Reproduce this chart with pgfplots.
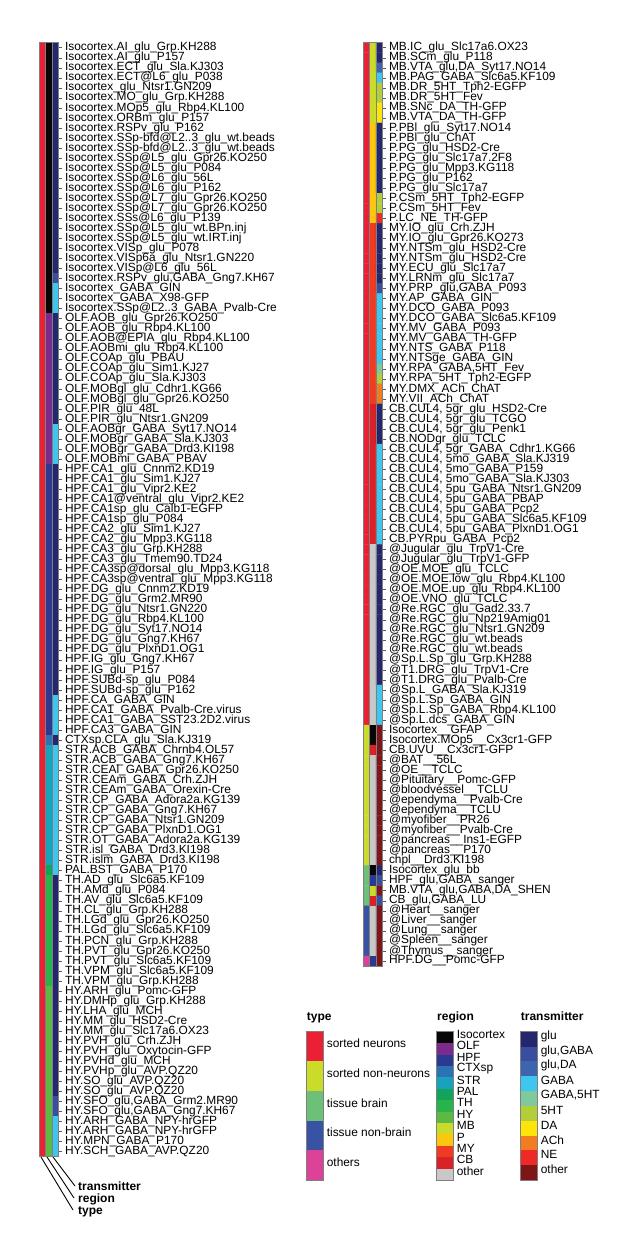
\documentclass[border=0pt]{standalone}
\usepackage{fontspec}
\setmainfont{Liberation Sans}
\usepackage{pgfplots}
\pgfplotsset{compat=1.18}
% type
\definecolor{c0}{RGB}{236,32,52}
\definecolor{c1}{RGB}{203,219,42}
\definecolor{c2}{RGB}{108,192,119}
\definecolor{c3}{RGB}{57,83,164}
\definecolor{c4}{RGB}{221,66,153}
% region
\definecolor{c5}{RGB}{7,7,7}
\definecolor{c6}{RGB}{123,43,142}
\definecolor{c7}{RGB}{43,57,144}
\definecolor{c8}{RGB}{44,115,180}
\definecolor{c9}{RGB}{23,162,190}
\definecolor{c10}{RGB}{18,164,90}
\definecolor{c11}{RGB}{40,179,75}
\definecolor{c12}{RGB}{92,185,70}
\definecolor{c13}{RGB}{203,219,42}
\definecolor{c14}{RGB}{253,198,15}
\definecolor{c15}{RGB}{240,59,35}
\definecolor{c16}{RGB}{218,33,40}
\definecolor{c17}{RGB}{200,200,200}
% transmitter
\definecolor{c18}{RGB}{37,39,110}
\definecolor{c19}{RGB}{58,78,160}
\definecolor{c20}{RGB}{61,100,176}
\definecolor{c21}{RGB}{62,197,240}
\definecolor{c22}{RGB}{127,201,154}
\definecolor{c23}{RGB}{178,207,59}
\definecolor{c24}{RGB}{253,229,10}
\definecolor{c25}{RGB}{242,124,34}
\definecolor{c26}{RGB}{238,42,39}
\definecolor{c27}{RGB}{126,21,24}
\newcommand\lab{\fontsize{11.9}{11.9}\selectfont}
\newcommand\ttl{\fontsize{12}{12}\selectfont\bfseries}
\pgfplotsset{
  strip/.style={
    scale only axis, width=19.5pt, anchor=north west,
    xmin=-0.5, xmax=2.5, y dir=reverse,
    axis on top,
    xtick={0.5,1.5}, xticklabels={}, xmajorgrids,
    major x grid style={draw=black!50, line width=0.8pt},
    xtick style={draw=none},
    ytick pos=right, yticklabel pos=right,
    tick align=outside, major tick length=3pt,
    ytick style={draw=black!65, line width=0.5pt},
    yticklabel style={font=\lab},
    axis line style={draw=black!50, line width=0.8pt},
    colormap={cats}{color=(c0) color=(c1) color=(c2) color=(c3) color=(c4)
      color=(c5) color=(c6) color=(c7) color=(c8) color=(c9) color=(c10)
      color=(c11) color=(c12) color=(c13) color=(c14) color=(c15) color=(c16)
      color=(c17) color=(c18) color=(c19) color=(c20) color=(c21) color=(c22)
      color=(c23) color=(c24) color=(c25) color=(c26) color=(c27)},
    colormap access=direct,
  },
  leg/.style={
    scale only axis, width=16.6pt, height=148.3pt, anchor=north west,
    ybar stacked, bar width=1, xmin=-0.5, xmax=0.5, ymin=0, y dir=reverse,
    xtick=\empty, ytick pos=right, yticklabel pos=right, major tick length=0pt,
    yticklabel style={font=\lab, yshift=3pt},
    axis line style={draw=black!50, line width=0.8pt}, axis on top,
  },
}
\begin{document}
\begin{tikzpicture}
\useasboundingbox (0,0) rectangle (642pt,1256pt);
% canvas axis in pixel coordinates (y downwards)
\begin{axis}[at={(0pt,0pt)}, anchor=south west, scale only axis,
  width=642pt, height=1256pt, xmin=0, xmax=642, ymin=0, ymax=1256,
  y dir=reverse, hide axis, clip=false]
\addplot[black, line width=0.9pt] coordinates {(41,1157) (73,1210)};
\addplot[black, line width=0.9pt] coordinates {(47,1157) (74,1198)};
\addplot[black, line width=0.9pt] coordinates {(53,1157) (75,1186)};
\node[anchor=base west, inner sep=0, font=\ttl] at (axis cs:78,1190) {transmitter};
\node[anchor=base west, inner sep=0, font=\ttl] at (axis cs:78,1202) {region};
\node[anchor=base west, inner sep=0, font=\ttl] at (axis cs:78,1214) {type};
\node[anchor=base west, inner sep=0, font=\ttl] at (axis cs:306.7,1020) {type};
\node[anchor=base west, inner sep=0, font=\ttl] at (axis cs:437,1020) {region};
\node[anchor=base west, inner sep=0, font=\ttl] at (axis cs:520.7,1020) {transmitter};
\end{axis}

% left strips
\begin{axis}[strip, at={(39pt,1213.3pt)}, height=1114pt,
  ymin=0.5, ymax=111.5, ytick={1,...,111},
  yticklabels={
{Isocortex.AI\_glu\_Grp.KH288},
{Isocortex.AI\_glu\_P157},
{Isocortex.ECT\_glu\_Sla.KJ303},
{Isocortex.ECT@L6\_glu\_P038},
{Isocortex\_glu\_Ntsr1.GN209},
{Isocortex.MO\_glu\_Grp.KH288},
{Isocortex.MOp5\_glu\_Rbp4.KL100},
{Isocortex.ORBm\_glu\_P157},
{Isocortex.RSPv\_glu\_P162},
{Isocortex.SSp-bfd@L2..3\_glu\_wt.beads},
{Isocortex.SSp-bfd@L2..3\_glu\_wt.beads},
{Isocortex.SSp@L5\_glu\_Gpr26.KO250},
{Isocortex.SSp@L5\_glu\_P084},
{Isocortex.SSp@L6\_glu\_56L},
{Isocortex.SSp@L6\_glu\_P162},
{Isocortex.SSp@L7\_glu\_Gpr26.KO250},
{Isocortex.SSp@L7\_glu\_Gpr26.KO250},
{Isocortex.SSs@L6\_glu\_P139},
{Isocortex.SSp@L5\_glu\_wt.BPn.inj},
{Isocortex.SSp@L5\_glu\_wt.IRT.inj},
{Isocortex.VISp\_glu\_P078},
{Isocortex.VISp6a\_glu\_Ntsr1.GN220},
{Isocortex.VISp@L6\_glu\_56L},
{Isocortex.RSPv\_glu,GABA\_Gng7.KH67},
{Isocortex\_GABA\_GIN},
{Isocortex\_GABA\_X98-GFP},
{Isocortex.SSp@L2..3\_GABA\_Pvalb-Cre},
{OLF.AOB\_glu\_Gpr26.KO250},
{OLF.AOB\_glu\_Rbp4.KL100},
{OLF.AOB@EPIA\_glu\_Rbp4.KL100},
{OLF.AOBmi\_glu\_Rbp4.KL100},
{OLF.COAp\_glu\_PBAU},
{OLF.COAp\_glu\_Sim1.KJ27},
{OLF.COAp\_glu\_Sla.KJ303},
{OLF.MOBgl\_glu\_Cdhr1.KG66},
{OLF.MOBgl\_glu\_Gpr26.KO250},
{OLF.PIR\_glu\_48L},
{OLF.PIR\_glu\_Ntsr1.GN209},
{OLF.AOBgr\_GABA\_Syt17.NO14},
{OLF.MOBgr\_GABA\_Sla.KJ303},
{OLF.MOBgr\_GABA\_Drd3.KI198},
{OLF.MOBmi\_GABA\_PBAV},
{HPF.CA1\_glu\_Cnnm2.KD19},
{HPF.CA1\_glu\_Sim1.KJ27},
{HPF.CA1\_glu\_Vipr2.KE2},
{HPF.CA1@ventral\_glu\_Vipr2.KE2},
{HPF.CA1sp\_glu\_Calb1-EGFP},
{HPF.CA1sp\_glu\_P084},
{HPF.CA2\_glu\_Sim1.KJ27},
{HPF.CA2\_glu\_Mpp3.KG118},
{HPF.CA3\_glu\_Grp.KH288},
{HPF.CA3\_glu\_Tmem90.TD24},
{HPF.CA3sp@dorsal\_glu\_Mpp3.KG118},
{HPF.CA3sp@ventral\_glu\_Mpp3.KG118},
{HPF.DG\_glu\_Cnnm2.KD19},
{HPF.DG\_glu\_Grm2.MR90},
{HPF.DG\_glu\_Ntsr1.GN220},
{HPF.DG\_glu\_Rbp4.KL100},
{HPF.DG\_glu\_Syt17.NO14},
{HPF.DG\_glu\_Gng7.KH67},
{HPF.DG\_glu\_PlxnD1.OG1},
{HPF.IG\_glu\_Gng7.KH67},
{HPF.IG\_glu\_P157},
{HPF.SUBd-sp\_glu\_P084},
{HPF.SUBd-sp\_glu\_P162},
{HPF.CA\_GABA\_GIN},
{HPF.CA1\_GABA\_Pvalb-Cre.virus},
{HPF.CA1\_GABA\_SST23.2D2.virus},
{HPF.CA3\_GABA\_GIN},
{CTXsp.CLA\_glu\_Sla.KJ319},
{STR.ACB\_GABA\_Chrnb4.OL57},
{STR.ACB\_GABA\_Gng7.KH67},
{STR.CEAl\_GABA\_Gpr26.KO250},
{STR.CEAm\_GABA\_Crh.ZJH},
{STR.CEAm\_GABA\_Orexin-Cre},
{STR.CP\_GABA\_Adora2a.KG139},
{STR.CP\_GABA\_Gng7.KH67},
{STR.CP\_GABA\_Ntsr1.GN209},
{STR.CP\_GABA\_PlxnD1.OG1},
{STR.OT\_GABA\_Adora2a.KG139},
{STR.isl\_GABA\_Drd3.KI198},
{STR.islm\_GABA\_Drd3.KI198},
{PAL.BST\_GABA\_P170},
{TH.AD\_glu\_Slc6a5.KF109},
{TH.AMd\_glu\_P084},
{TH.AV\_glu\_Slc6a5.KF109},
{TH.CL\_glu\_Grp.KH288},
{TH.LGd\_glu\_Gpr26.KO250},
{TH.LGd\_glu\_Slc6a5.KF109},
{TH.PCN\_glu\_Grp.KH288},
{TH.PVT\_glu\_Gpr26.KO250},
{TH.PVT\_glu\_Slc6a5.KF109},
{TH.VPM\_glu\_Slc6a5.KF109},
{TH.VPM\_glu\_Grp.KH288},
{HY.ARH\_glu\_Pomc-GFP},
{HY.DMHp\_glu\_Grp.KH288},
{HY.LHA\_glu\_MCH},
{HY.MM\_glu\_HSD2-Cre},
{HY.MM\_glu\_Slc17a6.OX23},
{HY.PVH\_glu\_Crh.ZJH},
{HY.PVH\_glu\_Oxytocin-GFP},
{HY.PVHd\_glu\_MCH},
{HY.PVHp\_glu\_AVP.QZ20},
{HY.SO\_glu\_AVP.QZ20},
{HY.SO\_glu\_AVP.QZ20},
{HY.SFO\_glu,GABA\_Grm2.MR90},
{HY.SFO\_glu,GABA\_Gng7.KH67},
{HY.ARH\_GABA\_NPY-hrGFP},
{HY.ARH\_GABA\_NPY-hrGFP},
{HY.MPN\_GABA\_P170},
{HY.SCH\_GABA\_AVP.QZ20}},
]
\addplot[matrix plot*, mesh/cols=3, point meta=explicit] coordinates {
(0,1)[0] (1,1)[5] (2,1)[18]
(0,2)[0] (1,2)[5] (2,2)[18]
(0,3)[0] (1,3)[5] (2,3)[18]
(0,4)[0] (1,4)[5] (2,4)[18]
(0,5)[0] (1,5)[5] (2,5)[18]
(0,6)[0] (1,6)[5] (2,6)[18]
(0,7)[0] (1,7)[5] (2,7)[18]
(0,8)[0] (1,8)[5] (2,8)[18]
(0,9)[0] (1,9)[5] (2,9)[18]
(0,10)[0] (1,10)[5] (2,10)[18]
(0,11)[0] (1,11)[5] (2,11)[18]
(0,12)[0] (1,12)[5] (2,12)[18]
(0,13)[0] (1,13)[5] (2,13)[18]
(0,14)[0] (1,14)[5] (2,14)[18]
(0,15)[0] (1,15)[5] (2,15)[18]
(0,16)[0] (1,16)[5] (2,16)[18]
(0,17)[0] (1,17)[5] (2,17)[18]
(0,18)[0] (1,18)[5] (2,18)[18]
(0,19)[0] (1,19)[5] (2,19)[18]
(0,20)[0] (1,20)[5] (2,20)[18]
(0,21)[0] (1,21)[5] (2,21)[18]
(0,22)[0] (1,22)[5] (2,22)[18]
(0,23)[0] (1,23)[5] (2,23)[18]
(0,24)[0] (1,24)[5] (2,24)[19]
(0,25)[0] (1,25)[5] (2,25)[21]
(0,26)[0] (1,26)[5] (2,26)[21]
(0,27)[0] (1,27)[5] (2,27)[21]
(0,28)[0] (1,28)[6] (2,28)[18]
(0,29)[0] (1,29)[6] (2,29)[18]
(0,30)[0] (1,30)[6] (2,30)[18]
(0,31)[0] (1,31)[6] (2,31)[18]
(0,32)[0] (1,32)[6] (2,32)[18]
(0,33)[0] (1,33)[6] (2,33)[18]
(0,34)[0] (1,34)[6] (2,34)[18]
(0,35)[0] (1,35)[6] (2,35)[18]
(0,36)[0] (1,36)[6] (2,36)[18]
(0,37)[0] (1,37)[6] (2,37)[18]
(0,38)[0] (1,38)[6] (2,38)[18]
(0,39)[0] (1,39)[6] (2,39)[21]
(0,40)[0] (1,40)[6] (2,40)[21]
(0,41)[0] (1,41)[6] (2,41)[21]
(0,42)[0] (1,42)[6] (2,42)[21]
(0,43)[0] (1,43)[7] (2,43)[18]
(0,44)[0] (1,44)[7] (2,44)[18]
(0,45)[0] (1,45)[7] (2,45)[18]
(0,46)[0] (1,46)[7] (2,46)[18]
(0,47)[0] (1,47)[7] (2,47)[18]
(0,48)[0] (1,48)[7] (2,48)[18]
(0,49)[0] (1,49)[7] (2,49)[18]
(0,50)[0] (1,50)[7] (2,50)[18]
(0,51)[0] (1,51)[7] (2,51)[18]
(0,52)[0] (1,52)[7] (2,52)[18]
(0,53)[0] (1,53)[7] (2,53)[18]
(0,54)[0] (1,54)[7] (2,54)[18]
(0,55)[0] (1,55)[7] (2,55)[18]
(0,56)[0] (1,56)[7] (2,56)[18]
(0,57)[0] (1,57)[7] (2,57)[18]
(0,58)[0] (1,58)[7] (2,58)[18]
(0,59)[0] (1,59)[7] (2,59)[18]
(0,60)[0] (1,60)[7] (2,60)[18]
(0,61)[0] (1,61)[7] (2,61)[18]
(0,62)[0] (1,62)[7] (2,62)[18]
(0,63)[0] (1,63)[7] (2,63)[18]
(0,64)[0] (1,64)[7] (2,64)[18]
(0,65)[0] (1,65)[7] (2,65)[18]
(0,66)[0] (1,66)[7] (2,66)[21]
(0,67)[0] (1,67)[7] (2,67)[21]
(0,68)[0] (1,68)[7] (2,68)[21]
(0,69)[0] (1,69)[7] (2,69)[21]
(0,70)[0] (1,70)[8] (2,70)[18]
(0,71)[0] (1,71)[9] (2,71)[21]
(0,72)[0] (1,72)[9] (2,72)[21]
(0,73)[0] (1,73)[9] (2,73)[21]
(0,74)[0] (1,74)[9] (2,74)[21]
(0,75)[0] (1,75)[9] (2,75)[21]
(0,76)[0] (1,76)[9] (2,76)[21]
(0,77)[0] (1,77)[9] (2,77)[21]
(0,78)[0] (1,78)[9] (2,78)[21]
(0,79)[0] (1,79)[9] (2,79)[21]
(0,80)[0] (1,80)[9] (2,80)[21]
(0,81)[0] (1,81)[9] (2,81)[21]
(0,82)[0] (1,82)[9] (2,82)[21]
(0,83)[0] (1,83)[10] (2,83)[21]
(0,84)[0] (1,84)[11] (2,84)[18]
(0,85)[0] (1,85)[11] (2,85)[18]
(0,86)[0] (1,86)[11] (2,86)[18]
(0,87)[0] (1,87)[11] (2,87)[18]
(0,88)[0] (1,88)[11] (2,88)[18]
(0,89)[0] (1,89)[11] (2,89)[18]
(0,90)[0] (1,90)[11] (2,90)[18]
(0,91)[0] (1,91)[11] (2,91)[18]
(0,92)[0] (1,92)[11] (2,92)[18]
(0,93)[0] (1,93)[11] (2,93)[18]
(0,94)[0] (1,94)[11] (2,94)[18]
(0,95)[0] (1,95)[12] (2,95)[18]
(0,96)[0] (1,96)[12] (2,96)[18]
(0,97)[0] (1,97)[12] (2,97)[18]
(0,98)[0] (1,98)[12] (2,98)[18]
(0,99)[0] (1,99)[12] (2,99)[18]
(0,100)[0] (1,100)[12] (2,100)[18]
(0,101)[0] (1,101)[12] (2,101)[18]
(0,102)[0] (1,102)[12] (2,102)[18]
(0,103)[0] (1,103)[12] (2,103)[18]
(0,104)[0] (1,104)[12] (2,104)[18]
(0,105)[0] (1,105)[12] (2,105)[18]
(0,106)[0] (1,106)[12] (2,106)[19]
(0,107)[0] (1,107)[12] (2,107)[19]
(0,108)[0] (1,108)[12] (2,108)[21]
(0,109)[0] (1,109)[12] (2,109)[21]
(0,110)[0] (1,110)[12] (2,110)[21]
(0,111)[0] (1,111)[12] (2,111)[21]
};
\end{axis}

% right strips
\begin{axis}[strip, at={(363pt,1213.3pt)}, height=923.3pt,
  ymin=0.5, ymax=92.5, ytick={1,...,92},
  yticklabels={
{MB.IC\_glu\_Slc17a6.OX23},
{MB.SCm\_glu\_P118},
{MB.VTA\_glu,DA\_Syt17.NO14},
{MB.PAG\_GABA\_Slc6a5.KF109},
{MB.DR\_5HT\_Tph2-EGFP},
{MB.DR\_5HT\_Fev},
{MB.SNc\_DA\_TH-GFP},
{MB.VTA\_DA\_TH-GFP},
{P.PBl\_glu\_Syt17.NO14},
{P.PBl\_glu\_ChAT},
{P.PG\_glu\_HSD2-Cre},
{P.PG\_glu\_Slc17a7.2F8},
{P.PG\_glu\_Mpp3.KG118},
{P.PG\_glu\_P162},
{P.PG\_glu\_Slc17a7},
{P.CSm\_5HT\_Tph2-EGFP},
{P.CSm\_5HT\_Fev},
{P.LC\_NE\_TH-GFP},
{MY.IO\_glu\_Crh.ZJH},
{MY.IO\_glu\_Gpr26.KO273},
{MY.NTSm\_glu\_HSD2-Cre},
{MY.NTSm\_glu\_HSD2-Cre},
{MY.ECU\_glu\_Slc17a7},
{MY.LRNm\_glu\_Slc17a7},
{MY.PRP\_glu,GABA\_P093},
{MY.AP\_GABA\_GIN},
{MY.DCO\_GABA\_P093},
{MY.DCO\_GABA\_Slc6a5.KF109},
{MY.MV\_GABA\_P093},
{MY.MV\_GABA\_TH-GFP},
{MY.NTS\_GABA\_P118},
{MY.NTSge\_GABA\_GIN},
{MY.RPA\_GABA,5HT\_Fev},
{MY.RPA\_5HT\_Tph2-EGFP},
{MY.DMX\_ACh\_ChAT},
{MY.VII\_ACh\_ChAT},
{CB.CUL4, 5gr\_glu\_HSD2-Cre},
{CB.CUL4, 5gr\_glu\_TCGO},
{CB.CUL4, 5gr\_glu\_Penk1},
{CB.NODgr\_glu\_TCLC},
{CB.CUL4, 5gr\_GABA\_Cdhr1.KG66},
{CB.CUL4, 5mo\_GABA\_Sla.KJ319},
{CB.CUL4, 5mo\_GABA\_P159},
{CB.CUL4, 5mo\_GABA\_Sla.KJ303},
{CB.CUL4, 5pu\_GABA\_Ntsr1.GN209},
{CB.CUL4, 5pu\_GABA\_PBAP},
{CB.CUL4, 5pu\_GABA\_Pcp2},
{CB.CUL4, 5pu\_GABA\_Slc6a5.KF109},
{CB.CUL4, 5pu\_GABA\_PlxnD1.OG1},
{CB.PYRpu\_GABA\_Pcp2},
{@Jugular\_glu\_TrpV1-Cre},
{@Jugular\_glu\_TrpV1-GFP},
{@OE.MOE\_glu\_TCLC},
{@OE.MOE.low\_glu\_Rbp4.KL100},
{@OE.MOE.up\_glu\_Rbp4.KL100},
{@OE.VNO\_glu\_TCLC},
{@Re.RGC\_glu\_Gad2.33.7},
{@Re.RGC\_glu\_Np219Amig01},
{@Re.RGC\_glu\_Ntsr1.GN209},
{@Re.RGC\_glu\_wt.beads},
{@Re.RGC\_glu\_wt.beads},
{@Sp.L.Sp\_glu\_Grp.KH288},
{@T1.DRG\_glu\_TrpV1-Cre},
{@T1.DRG\_glu\_Pvalb-Cre},
{@Sp.L\_GABA\_Sla.KJ319},
{@Sp.L.Sp\_GABA\_GIN},
{@Sp.L.Sp\_GABA\_Rbp4.KL100},
{@Sp.L.dcs\_GABA\_GIN},
{Isocortex\_\_GFAP},
{Isocortex.MOp5\_\_Cx3cr1-GFP},
{CB.UVU\_\_Cx3cr1-GFP},
{@BAT\_\_56L},
{@OE\_\_TCLC},
{@Pituitary\_\_Pomc-GFP},
{@bloodvessel\_\_TCLU},
{@ependyma\_\_Pvalb-Cre},
{@ependyma\_\_TCLU},
{@myofiber\_\_PR26},
{@myofiber\_\_Pvalb-Cre},
{@pancreas\_\_Ins1-EGFP},
{@pancreas\_\_P170},
{chpl\_\_Drd3.KI198},
{Isocortex\_glu\_bb},
{HPF\_glu,GABA\_sanger},
{MB.VTA\_glu,GABA,DA\_SHEN},
{CB\_glu,GABA\_LU},
{@Heart\_\_sanger},
{@Liver\_\_sanger},
{@Lung\_\_sanger},
{@Spleen\_\_sanger},
{@Thymus\_\_sanger},
{HPF.DG\_\_Pomc-GFP}},
]
\addplot[matrix plot*, mesh/cols=3, point meta=explicit] coordinates {
(0,1)[0] (1,1)[13] (2,1)[18]
(0,2)[0] (1,2)[13] (2,2)[18]
(0,3)[0] (1,3)[13] (2,3)[20]
(0,4)[0] (1,4)[13] (2,4)[21]
(0,5)[0] (1,5)[13] (2,5)[23]
(0,6)[0] (1,6)[13] (2,6)[23]
(0,7)[0] (1,7)[13] (2,7)[24]
(0,8)[0] (1,8)[13] (2,8)[24]
(0,9)[0] (1,9)[14] (2,9)[18]
(0,10)[0] (1,10)[14] (2,10)[18]
(0,11)[0] (1,11)[14] (2,11)[18]
(0,12)[0] (1,12)[14] (2,12)[18]
(0,13)[0] (1,13)[14] (2,13)[18]
(0,14)[0] (1,14)[14] (2,14)[18]
(0,15)[0] (1,15)[14] (2,15)[18]
(0,16)[0] (1,16)[14] (2,16)[23]
(0,17)[0] (1,17)[14] (2,17)[23]
(0,18)[0] (1,18)[14] (2,18)[26]
(0,19)[0] (1,19)[15] (2,19)[18]
(0,20)[0] (1,20)[15] (2,20)[18]
(0,21)[0] (1,21)[15] (2,21)[18]
(0,22)[0] (1,22)[15] (2,22)[18]
(0,23)[0] (1,23)[15] (2,23)[18]
(0,24)[0] (1,24)[15] (2,24)[18]
(0,25)[0] (1,25)[15] (2,25)[19]
(0,26)[0] (1,26)[15] (2,26)[21]
(0,27)[0] (1,27)[15] (2,27)[21]
(0,28)[0] (1,28)[15] (2,28)[21]
(0,29)[0] (1,29)[15] (2,29)[21]
(0,30)[0] (1,30)[15] (2,30)[21]
(0,31)[0] (1,31)[15] (2,31)[21]
(0,32)[0] (1,32)[15] (2,32)[21]
(0,33)[0] (1,33)[15] (2,33)[22]
(0,34)[0] (1,34)[15] (2,34)[23]
(0,35)[0] (1,35)[15] (2,35)[25]
(0,36)[0] (1,36)[15] (2,36)[25]
(0,37)[0] (1,37)[16] (2,37)[18]
(0,38)[0] (1,38)[16] (2,38)[18]
(0,39)[0] (1,39)[16] (2,39)[18]
(0,40)[0] (1,40)[16] (2,40)[18]
(0,41)[0] (1,41)[16] (2,41)[21]
(0,42)[0] (1,42)[16] (2,42)[21]
(0,43)[0] (1,43)[16] (2,43)[21]
(0,44)[0] (1,44)[16] (2,44)[21]
(0,45)[0] (1,45)[16] (2,45)[21]
(0,46)[0] (1,46)[16] (2,46)[21]
(0,47)[0] (1,47)[16] (2,47)[21]
(0,48)[0] (1,48)[16] (2,48)[21]
(0,49)[0] (1,49)[16] (2,49)[21]
(0,50)[0] (1,50)[16] (2,50)[21]
(0,51)[0] (1,51)[17] (2,51)[18]
(0,52)[0] (1,52)[17] (2,52)[18]
(0,53)[0] (1,53)[17] (2,53)[18]
(0,54)[0] (1,54)[17] (2,54)[18]
(0,55)[0] (1,55)[17] (2,55)[18]
(0,56)[0] (1,56)[17] (2,56)[18]
(0,57)[0] (1,57)[17] (2,57)[18]
(0,58)[0] (1,58)[17] (2,58)[18]
(0,59)[0] (1,59)[17] (2,59)[18]
(0,60)[0] (1,60)[17] (2,60)[18]
(0,61)[0] (1,61)[17] (2,61)[18]
(0,62)[0] (1,62)[17] (2,62)[18]
(0,63)[0] (1,63)[17] (2,63)[18]
(0,64)[0] (1,64)[17] (2,64)[18]
(0,65)[0] (1,65)[17] (2,65)[21]
(0,66)[0] (1,66)[17] (2,66)[21]
(0,67)[0] (1,67)[17] (2,67)[21]
(0,68)[0] (1,68)[17] (2,68)[21]
(0,69)[1] (1,69)[5] (2,69)[27]
(0,70)[1] (1,70)[5] (2,70)[27]
(0,71)[1] (1,71)[16] (2,71)[27]
(0,72)[1] (1,72)[17] (2,72)[27]
(0,73)[1] (1,73)[17] (2,73)[27]
(0,74)[1] (1,74)[17] (2,74)[27]
(0,75)[1] (1,75)[17] (2,75)[27]
(0,76)[1] (1,76)[17] (2,76)[27]
(0,77)[1] (1,77)[17] (2,77)[27]
(0,78)[1] (1,78)[17] (2,78)[27]
(0,79)[1] (1,79)[17] (2,79)[27]
(0,80)[1] (1,80)[17] (2,80)[27]
(0,81)[1] (1,81)[17] (2,81)[27]
(0,82)[1] (1,82)[17] (2,82)[27]
(0,83)[2] (1,83)[5] (2,83)[18]
(0,84)[2] (1,84)[7] (2,84)[19]
(0,85)[2] (1,85)[13] (2,85)[27]
(0,86)[2] (1,86)[16] (2,86)[19]
(0,87)[3] (1,87)[17] (2,87)[27]
(0,88)[3] (1,88)[17] (2,88)[27]
(0,89)[3] (1,89)[17] (2,89)[27]
(0,90)[3] (1,90)[17] (2,90)[27]
(0,91)[3] (1,91)[17] (2,91)[27]
(0,92)[4] (1,92)[7] (2,92)[27]
};
\end{axis}

% legend: type
\begin{axis}[leg, at={(306.7pt,224.3pt)}, ymax=5,
  ytick={0.5,1.5,...,4.5},
  yticklabels={sorted neurons, sorted non-neurons, tissue brain, tissue non-brain, others}]
\addplot[fill=c0, draw=none] coordinates {(0,1)};
\addplot[fill=c1, draw=none] coordinates {(0,1)};
\addplot[fill=c2, draw=none] coordinates {(0,1)};
\addplot[fill=c3, draw=none] coordinates {(0,1)};
\addplot[fill=c4, draw=none] coordinates {(0,1)};
\end{axis}

% legend: region
\begin{axis}[leg, at={(436.7pt,224.3pt)}, ymax=13,
  ytick={0.5,1.5,...,12.5},
  yticklabels={Isocortex, OLF, HPF, CTXsp, STR, PAL, TH, HY, MB, P, MY, CB, other}]
\addplot[fill=c5, draw=none] coordinates {(0,1)};
\addplot[fill=c6, draw=none] coordinates {(0,1)};
\addplot[fill=c7, draw=none] coordinates {(0,1)};
\addplot[fill=c8, draw=none] coordinates {(0,1)};
\addplot[fill=c9, draw=none] coordinates {(0,1)};
\addplot[fill=c10, draw=none] coordinates {(0,1)};
\addplot[fill=c11, draw=none] coordinates {(0,1)};
\addplot[fill=c12, draw=none] coordinates {(0,1)};
\addplot[fill=c13, draw=none] coordinates {(0,1)};
\addplot[fill=c14, draw=none] coordinates {(0,1)};
\addplot[fill=c15, draw=none] coordinates {(0,1)};
\addplot[fill=c16, draw=none] coordinates {(0,1)};
\addplot[fill=c17, draw=none] coordinates {(0,1)};
\end{axis}

% legend: transmitter
\begin{axis}[leg, at={(520.7pt,224.3pt)}, ymax=10,
  ytick={0.5,1.5,...,9.5},
  yticklabels={glu, {glu,GABA}, {glu,DA}, GABA, {GABA,5HT}, 5HT, DA, ACh, NE, other}]
\addplot[fill=c18, draw=none] coordinates {(0,1)};
\addplot[fill=c19, draw=none] coordinates {(0,1)};
\addplot[fill=c20, draw=none] coordinates {(0,1)};
\addplot[fill=c21, draw=none] coordinates {(0,1)};
\addplot[fill=c22, draw=none] coordinates {(0,1)};
\addplot[fill=c23, draw=none] coordinates {(0,1)};
\addplot[fill=c24, draw=none] coordinates {(0,1)};
\addplot[fill=c25, draw=none] coordinates {(0,1)};
\addplot[fill=c26, draw=none] coordinates {(0,1)};
\addplot[fill=c27, draw=none] coordinates {(0,1)};
\end{axis}
\end{tikzpicture}
\end{document}
